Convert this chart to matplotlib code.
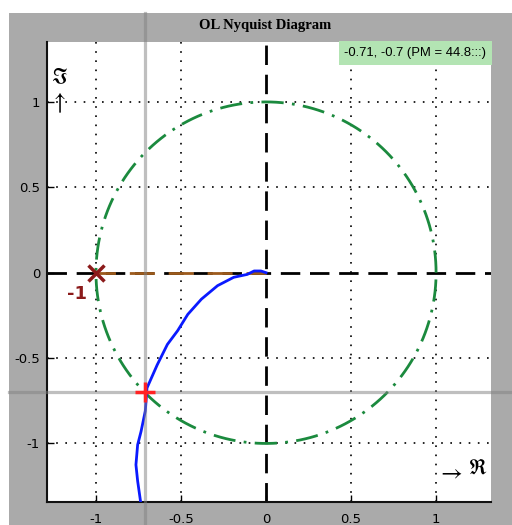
import numpy as np
import matplotlib
matplotlib.use("Agg")
import matplotlib.pyplot as plt
from matplotlib.patches import Rectangle

# Open-loop frequency response (real / imaginary parts)
nyq_re = [0.0, -0.03, -0.07, -0.11, -0.19, -0.285, -0.38, -0.46, -0.52, -0.58,
          -0.64, -0.70, -0.71, -0.735, -0.755, -0.765, -0.755, -0.735]
nyq_im = [0.0, 0.01, 0.01, -0.01, -0.027, -0.076, -0.155, -0.244, -0.34, -0.42,
          -0.54, -0.675, -0.81, -0.93, -1.008, -1.125, -1.22, -1.36]

# Gain crossover point and phase margin
cross_re, cross_im = -0.71, -0.7
phase_margin = "44.8:::"
crit_re, crit_im = -1.0, 0.0

ticks = [-1, -0.5, 0, 0.5, 1]
tick_labels = ["-1", "-0.5", "0", "0.5", "1"]

W, H = 512, 525
fig = plt.figure(figsize=(W / 100, H / 100), dpi=100, facecolor="white")
fig.patches.append(Rectangle((9 / W, 0), 1, (H - 13) / H, transform=fig.transFigure,
                             facecolor="#aaaaaa", edgecolor="none", zorder=-10))

ax = fig.add_axes([47 / W, (H - 501.5) / H, 443.5 / W, 459 / H])
ax.set_facecolor("white")
ax.set_xlim(-1.288, 1.32)
ax.set_ylim(-1.34, 1.348)

for s in ["top", "right"]:
    ax.spines[s].set_visible(False)
for s in ["left", "bottom"]:
    ax.spines[s].set_linewidth(1.5)
    ax.spines[s].set_color("#111111")

ax.set_xticks(ticks)
ax.set_xticklabels(tick_labels)
ax.set_yticks(ticks)
ax.set_yticklabels(tick_labels)
ax.tick_params(direction="in", length=5, width=1, labelsize=9.5, pad=5,
               top=False, right=False)
ax.tick_params(axis="x", pad=8)

# dotted grid
for t in ticks:
    if t != 0:
        ax.axvline(t, color="black", lw=1.2, ls=(0, (1, 4.5)), zorder=1)
        ax.axhline(t, color="black", lw=1.2, ls=(0, (1, 4.5)), zorder=1)

# real / imaginary axes
ax.axhline(0, color="black", lw=2, ls=(0, (7, 3.5)), zorder=2)
ax.axvline(0, color="black", lw=2, ls=(0, (7, 3.5)), zorder=2)
ax.plot([crit_re, 0], [0, 0], color="#9c5a1c", lw=2, ls=(2, (9, 5)), zorder=3)

# unit circle
th = np.linspace(0, 2 * np.pi, 400)
ax.plot(np.cos(th), np.sin(th), color="#1b8a3e", lw=2,
        ls=(0, (8, 3, 1, 3)), zorder=3)

# Nyquist curve
ax.plot(nyq_re, nyq_im, color="#0a1aff", lw=2, zorder=4)

# crosshair through crossover point
ax.axvline(cross_re, ymin=-0.053, ymax=1.064, color="#818181", alpha=0.5,
           lw=2.3, clip_on=False, zorder=5)
ax.axhline(cross_im, xmin=-0.086, xmax=1.06, color="#818181", alpha=0.5,
           lw=2.3, clip_on=False, zorder=5)

ax.plot([cross_re], [cross_im], marker="+", color="#ff2222", ms=14, mew=2.5, zorder=6)
ax.plot([crit_re], [crit_im], marker="x", color="#8b1a1a", ms=11, mew=2.5, zorder=6)
ax.text(crit_re - 0.11, crit_im - 0.125, "-1", color="#8b1a1a", fontsize=13,
        fontweight="bold", ha="center", va="center", zorder=6)

# axis symbols
sym_font = ["STIXGeneral", "DejaVu Sans"]
ax.text(0.028, 0.925, "\u2111", transform=ax.transAxes, fontsize=15,
        family=sym_font, ha="center", va="center")
ax.text(0.029, 0.868, "\u2191", transform=ax.transAxes, fontsize=17,
        family=sym_font, ha="center", va="center")
ax.text(0.912, 0.058, "\u2192", transform=ax.transAxes, fontsize=17,
        family=sym_font, ha="center", va="center")
ax.text(0.973, 0.069, "\u211c", transform=ax.transAxes, fontsize=15,
        family=sym_font, ha="center", va="center")

fig.text(265 / W, (H - 25) / H, "OL Nyquist Diagram", family="Liberation Serif",
         fontweight="bold", fontsize=10.5, ha="center", va="center")

fig.text(415.5 / W, (H - 53) / H,
         f"{cross_re:g}, {cross_im:g} (PM = {phase_margin})",
         family="Liberation Sans", fontsize=9.4, ha="center", va="center",
         bbox=dict(boxstyle="square,pad=0.45", facecolor="#b3e4b3", edgecolor="none"),
         zorder=10)

fig.savefig("out.png", dpi=100, facecolor=fig.get_facecolor())
